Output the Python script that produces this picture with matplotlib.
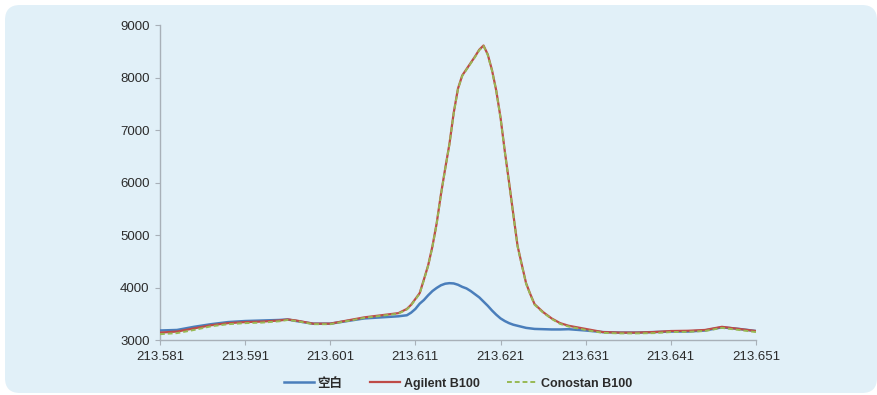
import matplotlib
matplotlib.use("Agg")
import matplotlib.pyplot as plt
from matplotlib.patches import FancyBboxPatch

# ---- data ----
wavelength = [213.581, 213.583, 213.585, 213.587, 213.589, 213.591, 213.593, 213.595,
              213.596, 213.597, 213.599, 213.601, 213.603, 213.605, 213.607, 213.609,
              213.6100, 213.6105, 213.6110, 213.6115, 213.6120, 213.6125, 213.6130,
              213.6135, 213.6140, 213.6145, 213.6150, 213.6155, 213.6160, 213.6165,
              213.6170, 213.6175, 213.6180, 213.6185, 213.6190, 213.6195, 213.6200,
              213.6205, 213.6210, 213.6215, 213.6220, 213.6225, 213.6230, 213.6235,
              213.6240, 213.6245, 213.6250,
              213.626, 213.627, 213.628, 213.629, 213.631, 213.633, 213.635, 213.637,
              213.639, 213.641, 213.643, 213.645, 213.647, 213.649, 213.651]

blank = [3190, 3200, 3260, 3310, 3350, 3370, 3380, 3390,
         3400, 3370, 3320, 3320, 3370, 3420, 3440, 3460,
         3480, 3530, 3600, 3700, 3770, 3860, 3940,
         4000, 4050, 4080, 4090, 4085, 4060, 4020,
         3990, 3940, 3880, 3820, 3740, 3660, 3570,
         3490, 3420, 3370, 3330, 3300, 3280, 3260,
         3240, 3230, 3220,
         3215, 3210, 3210, 3215, 3190, 3160, 3150, 3150,
         3160, 3170, 3170, 3190, 3250, 3220, 3180]

agilent = [3150, 3170, 3230, 3290, 3330, 3350, 3360, 3380,
           3400, 3380, 3320, 3320, 3380, 3440, 3480, 3520,
           3600, 3680, 3790, 3900, 4160, 4430, 4790,
           5230, 5780, 6270, 6740, 7330, 7790, 8040,
           8160, 8280, 8400, 8530, 8610, 8440, 8140,
           7750, 7240, 6600, 6010, 5400, 4800, 4440,
           4090, 3880, 3690,
           3540, 3420, 3330, 3280, 3220, 3160, 3150, 3150,
           3160, 3180, 3185, 3200, 3260, 3220, 3180]

conostan = [3120, 3140, 3200, 3270, 3310, 3330, 3340, 3365,
            3390, 3370, 3310, 3310, 3370, 3430, 3470, 3510,
            3590, 3670, 3780, 3890, 4150, 4420, 4780,
            5220, 5770, 6260, 6730, 7320, 7780, 8030,
            8150, 8270, 8390, 8520, 8600, 8430, 8130,
            7740, 7230, 6590, 6000, 5390, 4790, 4430,
            4080, 3870, 3680,
            3530, 3410, 3315, 3265, 3200, 3145, 3135, 3135,
            3140, 3160, 3165, 3180, 3240, 3200, 3160]

series_labels = ["空白", "Agilent B100", "Conostan B100"]
xticks = [213.581, 213.591, 213.601, 213.611, 213.621, 213.631, 213.641, 213.651]
yticks = [3000, 4000, 5000, 6000, 7000, 8000, 9000]

plt.rcParams['font.family'] = ['Liberation Sans', 'Noto Sans CJK SC', 'DejaVu Sans']

fig = plt.figure(figsize=(8.78, 3.95), dpi=100)
fig.patch.set_facecolor("white")

panel = FancyBboxPatch((0.05, 0.02), 8.72, 3.88,
                       boxstyle="round,pad=0,rounding_size=0.15",
                       transform=fig.dpi_scale_trans,
                       facecolor="#E1F0F8", edgecolor="none", zorder=-10)
fig.patches.append(panel)

ax = fig.add_axes([0.1822, 0.138, 0.6788, 0.7987])
ax.set_zorder(5)
ax.set_facecolor("none")

ax.plot(wavelength, blank, color="#4A7EBB", lw=1.8, label=series_labels[0], zorder=3)
ax.plot(wavelength, agilent, color="#BE4B48", lw=1.6, label=series_labels[1], zorder=4)
ax.plot(wavelength, conostan, color="#98B954", lw=1.4, ls=(0, (2.5, 1.5)),
        label=series_labels[2], zorder=5)

ax.set_xlim(213.581, 213.651)
ax.set_ylim(3000, 9000)
ax.set_xticks(xticks)
ax.set_xticklabels([f"{v:.3f}" for v in xticks])
ax.set_yticks(yticks)

for s in ["top", "right"]:
    ax.spines[s].set_visible(False)
for s in ["left", "bottom"]:
    ax.spines[s].set_color("#A8B0B8")
    ax.spines[s].set_linewidth(1.0)

ax.tick_params(axis="both", colors="#A8B0B8", length=3.5, width=0.8,
               labelcolor="#2B2B2B", labelsize=9.5)
ax.tick_params(axis="y", pad=4)
ax.tick_params(axis="x", pad=4)

leg = ax.legend(loc="upper center", bbox_to_anchor=(0.5, -0.09), ncol=3,
                frameon=False, handlelength=2.4, handletextpad=0.3,
                columnspacing=2.2, borderpad=0.2,
                prop={"weight": "bold", "size": 9})
for t in leg.get_texts():
    t.set_color("#2B2B2B")

fig.savefig("out.png", dpi=100, facecolor="white")
